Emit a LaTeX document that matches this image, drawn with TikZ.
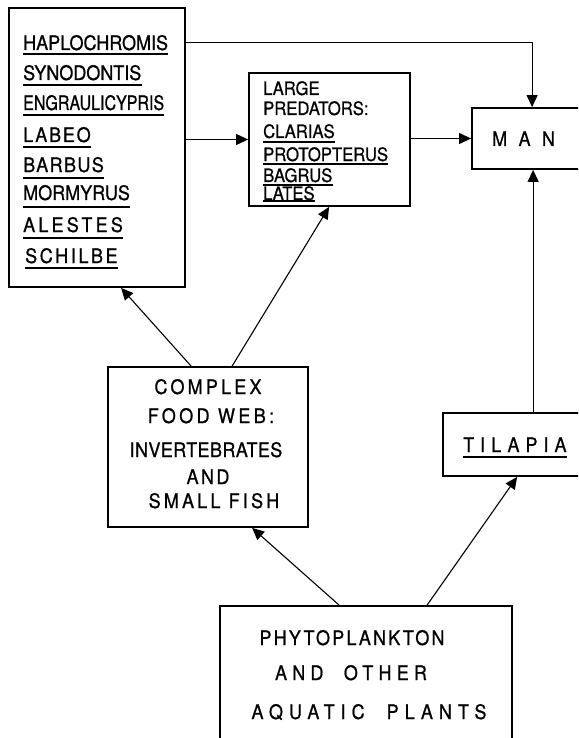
\documentclass[tikz,border=0pt]{standalone}
\usepackage{fontspec}
\setmainfont[FakeStretch=0.9,FakeBold=0.8]{TeX Gyre Heros}
\usetikzlibrary{arrows.meta,calc}
\newcommand{\lsp}[2]{{\addfontfeature{LetterSpace=#1}#2}}
\begin{document}
\begin{tikzpicture}[x=1pt,y=-1pt,
  box/.style={draw,line width=1.8pt,inner sep=0pt,minimum width=#1},
  arr/.style={line width=1.1pt,-{Triangle[length=12pt,width=11pt]}},
  txt/.style={inner sep=0pt,anchor=base west,font=\fontsize{20}{22}\selectfont},
  ctxt/.style={inner sep=0pt,anchor=base,font=\fontsize{20}{22}\selectfont},
  ptxt/.style={inner sep=0pt,anchor=base west,font=\fontsize{18.5}{20}\selectfont},
  ul/.style={line width=1.2pt}]
\useasboundingbox (0,0) rectangle (578,738);
\clip (0,0) rectangle (578,738);
% boxes
\node[box=176, minimum height=279] (fish) at (97,147.5) {};
\node[box=161, minimum height=133] (pred) at (329.5,139.5) {};
\node[box=128, minimum height=61] (man) at (536,138.5) {};
\node[box=200, minimum height=160] (web) at (208,447) {};
\node[box=157, minimum height=63] (til) at (521.5,444.5) {};
\node[box=292, minimum height=154] (phy) at (366,683) {};
% fish list
\node[txt] (t1) at (23,50) {HAPLOCHROMIS};
\node[txt] (t2) at (23,80) {SYNODONTIS};
\node[txt] (t3) at (23,110) {\scalebox{0.89}[1]{ENGRAULICYPRIS}};
\node[txt] (t4) at (23,142) {\lsp{9}{LABEO}};
\node[txt] (t5) at (23,172) {\lsp{7}{BARBUS}};
\node[txt] (t6) at (23,200) {MORMYRUS};
\node[txt] (t7) at (23,232) {\lsp{16}{ALESTES}};
\node[txt] (t8) at (25,263) {\lsp{13}{SCHILBE}};
\foreach \n/\d in {t1/4,t2/5,t3/5,t4/5,t5/6,t6/7,t7/6,t8/5}
  \draw[ul] ($(\n.base west)+(0,\d)$) -- ($(\n.base east)+(0,\d)$);
% predators
\node[ptxt] (p1) at (263,95) {LARGE};
\node[ptxt] (p2) at (263,115) {PREDATORS:};
\node[ptxt] (p3) at (263,138) {CLARIAS};
\node[ptxt] (p4) at (263,161) {PROTOPTERUS};
\node[ptxt] (p5) at (263,182) {BAGRUS};
\node[ptxt] (p6) at (263,200) {LATES};
\foreach \n/\d in {p3/4,p4/3,p5/3,p6/1}
  \draw[ul] ($(\n.base west)+(0,\d)$) -- ($(\n.base east)+(0,\d)$);
% man
\node[txt] (m) at (492,146) {\lsp{57}{MAN}};
% tilapia
\node[txt] (ti) at (463,452) {\lsp{30}{TILAPIA}};
\draw[ul] ($(ti.base west)+(0,5)$) -- ($(ti.base west)+(104,5)$);
% web
\node[ctxt] (w1) at (208,394) {\lsp{16}{COMPLEX}};
\node[ctxt] (w2) at (211,423) {\lsp{17}{FOOD WEB:}};
\node[ctxt] (w3) at (206,457) {\lsp{2}{INVERTEBRATES}};
\node[ctxt] (w4) at (208,484) {\lsp{12}{AND}};
\node[ctxt] (w5) at (214,508) {\lsp{16}{SMALL FISH}};
% phyto
\node[ctxt] (f1) at (352,645) {\lsp{11}{PHYTOPLANKTON}};
\node[ctxt] (f2) at (351,680) {\lsp{26}{AND\ \ OTHER}};
\node[ctxt] (f3) at (369,719) {\lsp{30}{AQUATIC\ \ PLANTS}};
% connectors
\draw[arr] ($(fish.north east)+(0,35)$) -| ($(man.north west)+(61,0)$);
\draw[arr] (fish.east |- pred.west) -- (pred.west);
\draw[arr] (pred.east |- man.west) -- (man.west);
\draw[arr] ($(til.north west)+(91,0)$) -- ($(man.south west)+(62,0)$);
\draw[arr] ($(web.north west)+(84,0)$) -- ($(fish.south west)+(113,0)$);
\draw[arr] ($(web.north west)+(125,0)$) -- ($(pred.south west)+(81,0)$);
\draw[arr] ($(phy.north west)+(120,0)$) -- ($(web.south west)+(145,0)$);
\draw[arr] ($(phy.north west)+(208,0)$) -- ($(til.south west)+(75,0)$);
\end{tikzpicture}
\end{document}
